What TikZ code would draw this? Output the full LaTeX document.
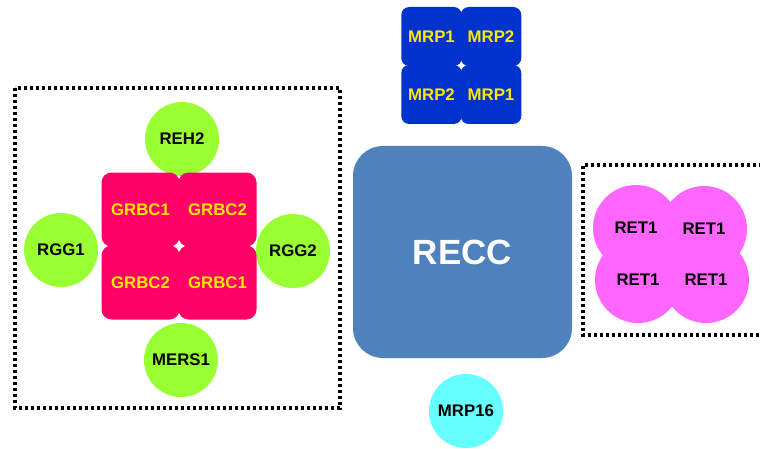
\documentclass[tikz,border=0pt]{standalone}
\usepackage{fontspec}
\setmainfont{Liberation Sans}
\definecolor{ballgreen}{RGB}{153,255,51}
\definecolor{grbcpink}{RGB}{255,0,102}
\definecolor{mrpblue}{RGB}{0,51,204}
\definecolor{reccblue}{RGB}{79,129,189}
\definecolor{retpink}{RGB}{255,102,255}
\definecolor{mrpcyan}{RGB}{102,255,255}
\definecolor{labelyellow}{RGB}{255,232,0}
\tikzset{
    lbl/.style={font=\fontsize{8.4}{10}\selectfont\bfseries},
    ball/.style={lbl, circle, inner sep=0pt, minimum size=#1},
    ball/.default=37pt,
    greenball/.style={ball, fill=ballgreen, text=black},
    retball/.style={ball=43pt, fill=retpink},
    tile/.style={lbl, rectangle, rounded corners=5pt, inner sep=0pt, text=labelyellow},
    grbctile/.style={tile, fill=grbcpink, minimum width=39pt, minimum height=37pt},
    mrptile/.style={tile, fill=mrpblue, minimum width=30.25pt, minimum height=29.5pt, rounded corners=4pt},
    dotbox/.style={draw=black, line width=2pt, dash pattern=on 1.65pt off 1.35pt}
}
\begin{document}
\begin{tikzpicture}[x=0.5pt, y=-0.5pt]
            \useasboundingbox (0,0) rectangle (760,449);
            \draw[dotbox] (15,88) rectangle (340,408);
            \draw[dotbox] (762,165) -| (583,335) -- (762,335);
            \node[greenball] (reh2) at (182,139) {REH2};
            \node[greenball] (rgg1) at (61,250) {RGG1};
            \node[greenball] (rgg2) at (293,251) {RGG2};
            \node[greenball] (mers1) at (181,360) {MERS1};
            \node[grbctile] (grbc-a) at (140.5,209.5) {GRBC1};
            \node[grbctile] (grbc-b) at (217.5,209.5) {GRBC2};
            \node[grbctile] (grbc-c) at (140.5,282.5) {GRBC2};
            \node[grbctile] (grbc-d) at (217.5,282.5) {GRBC1};
            \node[mrptile] (mrp-a) at (431.5,36.5) {MRP1};
            \node[mrptile] (mrp-b) at (491,36.5) {MRP2};
            \node[mrptile] (mrp-c) at (431.5,94.5) {MRP2};
            \node[mrptile] (mrp-d) at (491,94.5) {MRP1};
            \node[rectangle, rounded corners=15pt, fill=reccblue, text=white, inner sep=0pt,
                  minimum width=109.5pt, minimum height=106pt,
                  font=\fontsize{17.5}{20}\selectfont\bfseries] (recc) at (462.5,252) {RECC};
            \node[retball] (ret-a) at (636,228) {};
            \node[retball] (ret-b) at (704,229) {};
            \node[retball] (ret-c) at (638,280) {};
            \node[retball] (ret-d) at (706,280) {};
            \foreach \r in {a,b,c,d}
                \node[lbl] at (ret-\r) {RET1};
            \node[ball, fill=mrpcyan] (mrp16) at (466,411) {MRP16};
        \end{tikzpicture}
\end{document}
